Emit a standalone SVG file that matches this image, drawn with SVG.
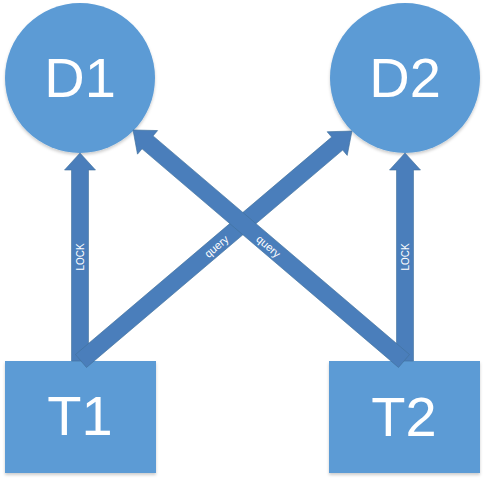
<svg xmlns="http://www.w3.org/2000/svg" width="486" height="486" viewBox="0 0 486 486">
<style>
.node{fill:#5B9BD5;filter:url(#sh);}
.big{font-family:"Liberation Sans",Arial,sans-serif;font-size:56px;fill:#FFFFFF;text-anchor:middle;}
.arrow{fill:#4A7EBB;stroke:#41719C;stroke-width:0.6;}
.lbl{font-family:"Liberation Sans",Arial,sans-serif;fill:#FFFFFF;text-anchor:middle;}
</style>
<defs>
<filter id="sh" x="-10%" y="-10%" width="120%" height="125%">
<feDropShadow dx="0" dy="2" stdDeviation="1.5" flood-color="#000000" flood-opacity="0.2"/>
</filter>
</defs>
<rect width="486" height="486" fill="#FFFFFF"/>
<g id="D1"><circle class="node" cx="80" cy="78" r="75"/><text class="big" x="80" y="97">D1</text></g>
<g id="D2"><circle class="node" cx="405" cy="78" r="75"/><text class="big" x="405" y="97">D2</text></g>
<g id="T1"><rect class="node" x="5" y="361" width="151" height="112"/><text class="big" x="80" y="435">T1</text></g>
<g id="T2"><rect class="node" x="329" y="361" width="151" height="112"/><text class="big" x="404" y="436">T2</text></g>
<g id="connectors">
<path class="arrow" transform="translate(80,361) rotate(-90)" d="M0,-8.5 L191,-8.5 L191,-15.5 L208,0 L191,15.5 L191,8.5 L0,8.5 Z"/>
<path class="arrow" transform="translate(405,361) rotate(-90)" d="M0,-8.5 L191,-8.5 L191,-15.5 L208,0 L191,15.5 L191,8.5 L0,8.5 Z"/>
<path class="arrow" transform="translate(81,361) rotate(-40.32)" d="M0,-8.5 L336,-8.5 L336,-15.5 L355.4,0 L336,15.5 L336,8.5 L0,8.5 Z"/>
<path class="arrow" transform="translate(404,361) rotate(-139.55)" d="M0,-8.5 L337,-8.5 L337,-15.5 L356.1,0 L337,15.5 L337,8.5 L0,8.5 Z"/>
<text class="lbl" font-size="10" transform="translate(80,257) rotate(-90)" y="3.5">LOCK</text>
<text class="lbl" font-size="10" transform="translate(405,257) rotate(-90)" y="3.5">LOCK</text>
<text class="lbl" font-size="11" transform="translate(217,247) rotate(-40.32)" y="3">query</text>
<text class="lbl" font-size="11" transform="translate(268,247) rotate(40.45)" y="3">query</text>
</g>
</svg>
